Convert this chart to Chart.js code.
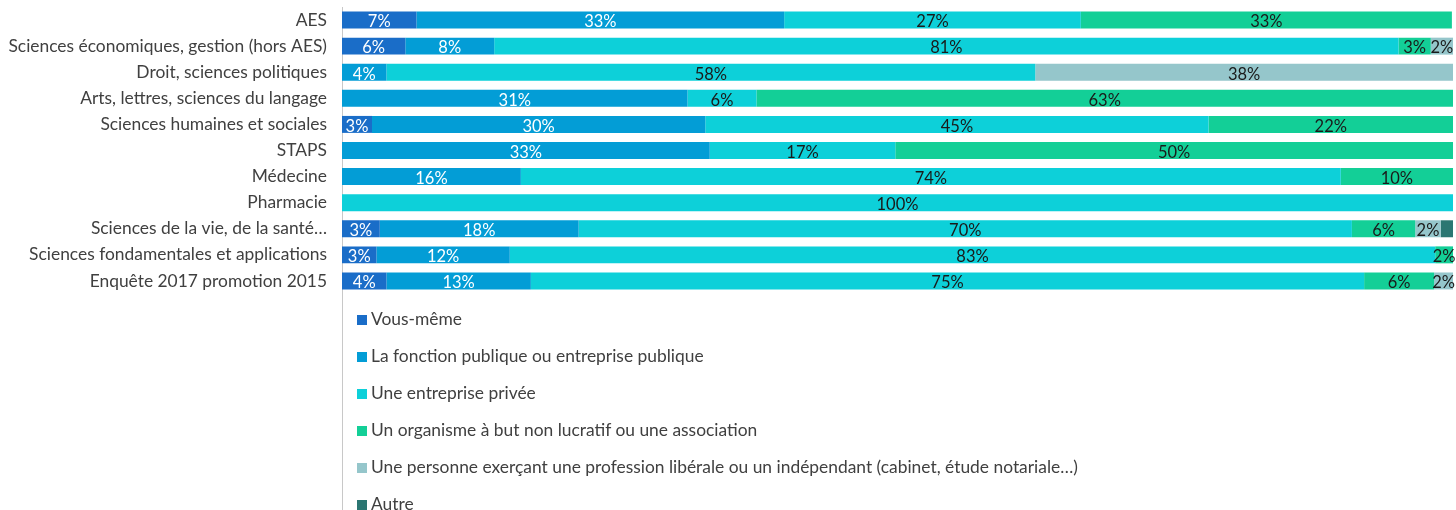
<!DOCTYPE html>
<html>
<head>
<meta charset="utf-8">
<script src="https://cdn.jsdelivr.net/npm/chart.js@4"></script>
<style>
  body { margin: 0; background: #fff; font-family: Lato, "Open Sans", sans-serif; }
  #wrap { position: relative; width: 1456px; height: 510px; overflow: hidden; }
  #barChart { position: absolute; left: 0; top: 0; }
  #legend { position: absolute; left: 342px; top: 294px; width: 1100px; height: 216px;
            border-left: 1px solid #c8c8c8; }
  .item { position: absolute; left: 14px; font-size: 17.4px; color: #404040; white-space: nowrap; line-height: 20px; }
  .item span { display: inline-block; width: 10px; height: 10px; margin-right: 4px; }
</style>
</head>
<body>
<div id="wrap">
  <canvas id="barChart" width="1456" height="300"></canvas>
  <div id="legend"></div>
</div>
<script>
const categories = [
  "AES",
  "Sciences économiques, gestion (hors AES)",
  "Droit, sciences politiques",
  "Arts, lettres, sciences du langage",
  "Sciences humaines et sociales",
  "STAPS",
  "Médecine",
  "Pharmacie",
  "Sciences de la vie, de la santé…",
  "Sciences fondamentales et applications",
  "Enquête 2017 promotion 2015"
];

const seriesNames = [
  "Vous-même",
  "La fonction publique ou entreprise publique",
  "Une entreprise privée",
  "Un organisme à but non lucratif ou une association",
  "Une personne exerçant une profession libérale ou un indépendant (cabinet, étude notariale…)",
  "Autre"
];

const vousMeme     = [6.7, 5.7, 0,    0,    2.7, 0,    0,    0,   3.4, 3.1, 4.0];
const fonctionPub  = [33.1, 8.0, 4.0, 31.1, 30.0, 33.1, 16.1, 0,  17.9, 12.0, 13.0];
const entreprise   = [26.7, 81.4, 58.4, 6.2, 45.3, 16.7, 73.8, 100, 69.6, 83.3, 75.0];
const organisme    = [33.4, 2.9, 0,    62.7, 22.0, 50.2, 10.1, 0,   5.7, 1.6, 6.3];
const liberale     = [0,    2.0, 37.6, 0,    0,    0,    0,    0,   2.3, 0,   1.7];
const autre        = [0,    0,   0,    0,    0,    0,    0,    0,   1.1, 0,   0];

const colors = ["#1a6dc8", "#039dd6", "#0dd0d9", "#13cf97", "#95c6cb", "#2b7672"];
const labelColors = ["#ffffff", "#ffffff", "#1a1a1a", "#1a1a1a", "#1a1a1a", "#1a1a1a"];

const seriesValues = [vousMeme, fonctionPub, entreprise, organisme, liberale, autre];

const datasets = seriesValues.map((vals, i) => ({
  label: seriesNames[i],
  data: vals,
  backgroundColor: colors[i],
  borderWidth: 0,
  barPercentage: 0.65,
  categoryPercentage: 1
}));

// percentage labels in the middle of each segment
const segmentLabels = {
  id: 'segmentLabels',
  afterDatasetsDraw(chart) {
    const ctx = chart.ctx;
    ctx.save();
    ctx.font = '16.5px Lato, "Open Sans", sans-serif';
    ctx.textAlign = 'center';
    ctx.textBaseline = 'middle';
    chart.data.datasets.forEach((ds, i) => {
      const meta = chart.getDatasetMeta(i);
      meta.data.forEach((bar, j) => {
        const v = ds.data[j];
        if (v < 1.5) return;
        ctx.fillStyle = labelColors[i];
        ctx.fillText(Math.round(v) + '%', (bar.x + bar.base) / 2, bar.y + 2);
      });
    });
    ctx.restore();
  }
};

new Chart(document.getElementById('barChart').getContext('2d'), {
  type: 'bar',
  data: { labels: categories, datasets: datasets },
  options: {
    indexAxis: 'y',
    responsive: false,
    animation: false,
    layout: { padding: { top: 7, bottom: 6, right: 3, left: 0 } },
    plugins: { legend: { display: false }, tooltip: { enabled: false } },
    scales: {
      x: { stacked: true, min: 0, max: 100, display: false },
      y: {
        stacked: true,
        grid: { display: false, drawTicks: false },
        border: { color: '#c8c8c8' },
        ticks: { color: '#404040', padding: 15, autoSkip: false,
                 font: { size: 17.4, family: 'Lato, "Open Sans", sans-serif' } },
        afterFit(scale) {
          scale.width = 342;
          scale.paddingTop = 0;
          scale.paddingBottom = 0;
        }
      }
    }
  },
  plugins: [segmentLabels]
});

const legend = document.getElementById('legend');
seriesNames.forEach((name, i) => {
  const d = document.createElement('div');
  d.className = 'item';
  d.style.top = (15 + i * 37) + 'px';
  d.innerHTML = '<span style="background:' + colors[i] + '"></span>' + name;
  legend.appendChild(d);
});
</script>
</body>
</html>
